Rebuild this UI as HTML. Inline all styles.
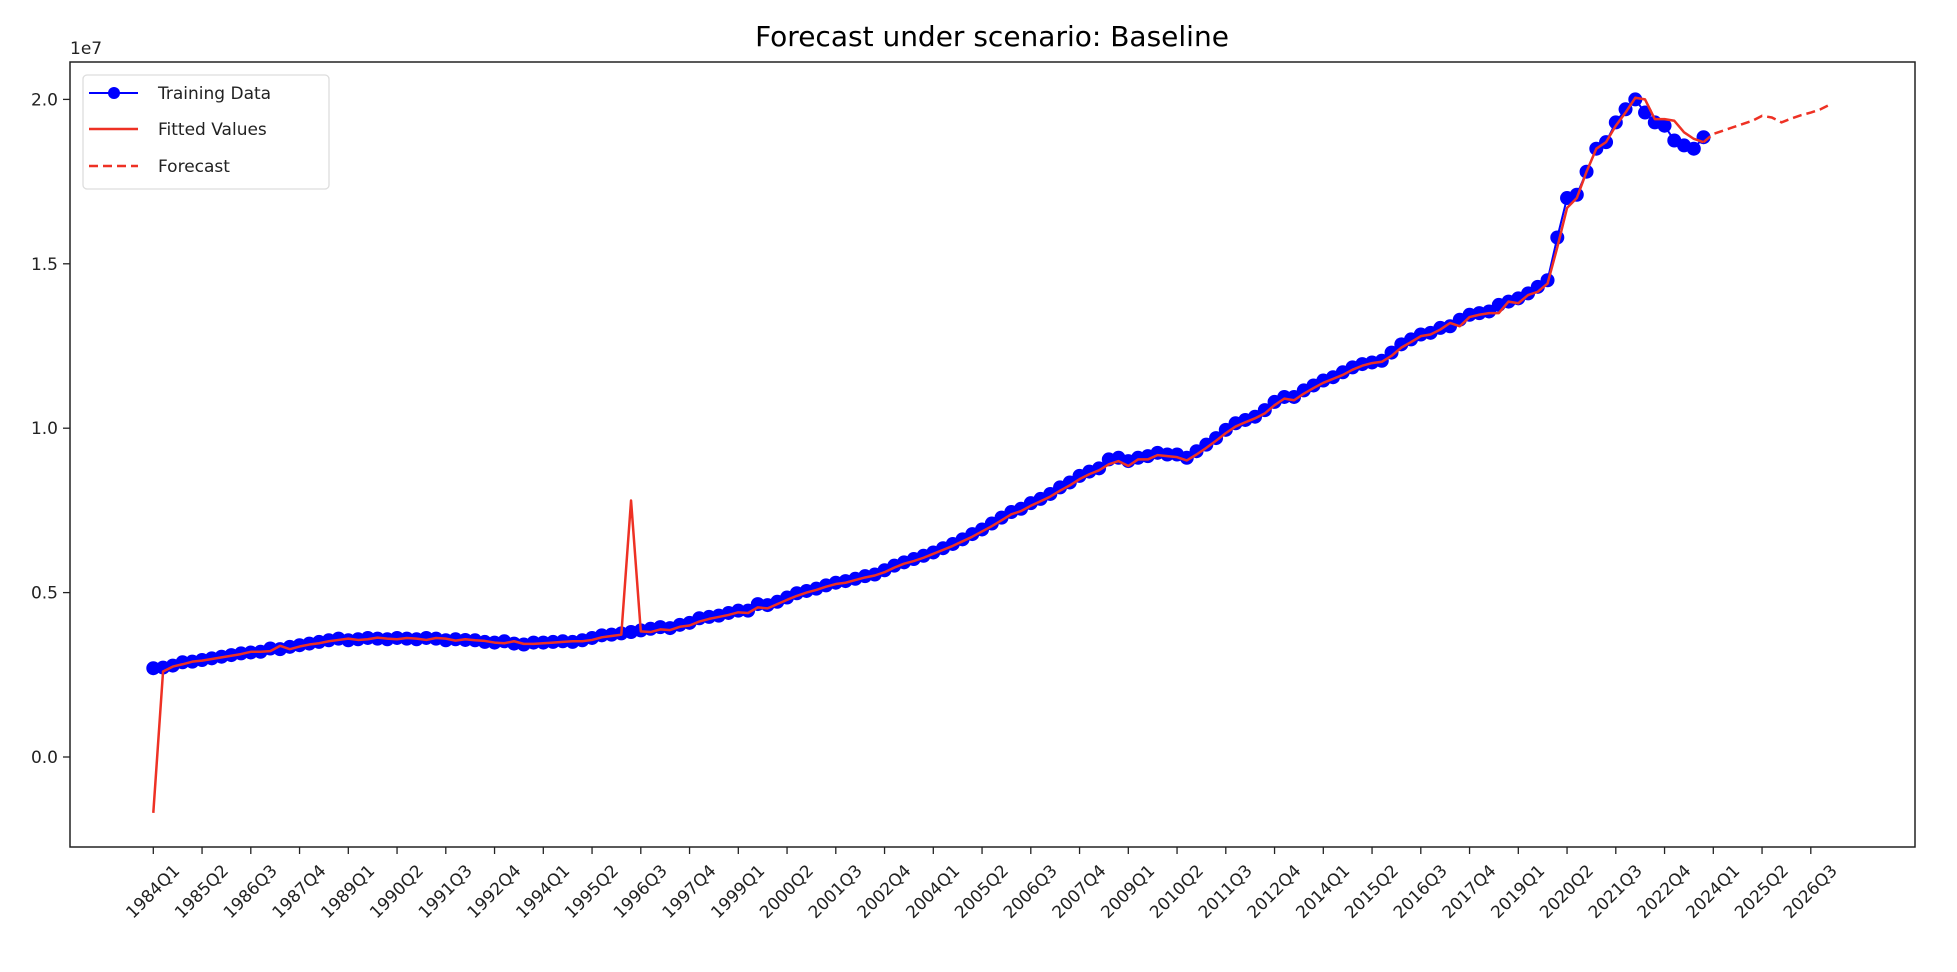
<!DOCTYPE html>
<html><head><meta charset="utf-8"><style>
body{margin:0;background:#fff;}
svg{display:block;font-family:"DejaVu Sans","Liberation Sans",sans-serif;}
</style></head><body>
<svg id="chart" width="1957" height="972" xmlns="http://www.w3.org/2000/svg">
<text x="992" y="46" font-size="28" text-anchor="middle" fill="#000">Forecast under scenario: Baseline</text>
<text x="70" y="54" font-size="17" fill="#222">1e7</text>
<g id="plot"></g>
<rect x="70" y="62" width="1845" height="785" fill="none" stroke="#222" stroke-width="1.5"/>
<g id="legend">
<rect x="83" y="75" width="246" height="114" rx="4" fill="#fff" fill-opacity="0.85" stroke="#ddd" stroke-width="1.3"/>
<g><line x1="89" y1="93" x2="138" y2="93" stroke="#0000ff" stroke-width="2"/><circle cx="114" cy="93" r="6" fill="#0000ff"/><text x="158" y="99" font-size="17" fill="#222">Training Data</text></g>
<g><line x1="89" y1="129" x2="138" y2="129" stroke="#ee3124" stroke-width="2.5"/><text x="158" y="135" font-size="17" fill="#222">Fitted Values</text></g>
<g><line x1="89" y1="166" x2="138" y2="166" stroke="#ee3124" stroke-width="2.5" stroke-dasharray="9,5"/><text x="158" y="172" font-size="17" fill="#222">Forecast</text></g>
</g>
</svg>
<script>
const trainingValues=[2.70,2.72,2.78,2.88,2.90,2.95,3.00,3.05,3.10,3.15,3.18,3.20,3.30,3.28,3.35,3.40,3.45,3.50,3.55,3.60,
3.55,3.58,3.62,3.60,3.58,3.62,3.60,3.58,3.62,3.60,3.55,3.58,3.56,3.55,3.50,3.48,3.52,3.45,3.42,3.48,
3.48,3.50,3.52,3.50,3.55,3.62,3.70,3.72,3.76,3.80,3.85,3.90,3.95,3.92,4.02,4.08,4.22,4.26,4.30,4.38,
4.45,4.45,4.65,4.62,4.72,4.85,4.98,5.05,5.12,5.22,5.30,5.35,5.42,5.50,5.55,5.68,5.82,5.92,6.02,6.12,
6.22,6.35,6.48,6.62,6.78,6.92,7.10,7.28,7.45,7.55,7.72,7.85,8.00,8.20,8.35,8.55,8.68,8.78,9.05,9.10,
9.00,9.10,9.15,9.25,9.20,9.20,9.10,9.30,9.50,9.70,9.95,10.15,10.25,10.35,10.55,10.80,10.95,10.95,11.15,11.30,
11.45,11.55,11.70,11.85,11.95,12.00,12.05,12.30,12.55,12.70,12.85,12.90,13.05,13.10,13.30,13.45,13.50,13.55,13.75,13.85,
13.95,14.10,14.30,14.50,15.80,17.00,17.10,17.80,18.50,18.70,19.30,19.70,20.00,19.60,19.30,19.20,18.75,18.60,18.50,18.85];
const fittedValues=[-1.70,2.60,2.75,2.82,2.90,2.93,2.98,3.03,3.08,3.13,3.20,3.20,3.22,3.38,3.28,3.36,3.42,3.46,3.52,3.56,
3.60,3.56,3.58,3.63,3.60,3.58,3.62,3.60,3.56,3.62,3.60,3.54,3.58,3.55,3.53,3.48,3.46,3.52,3.44,3.44,
3.46,3.48,3.50,3.52,3.52,3.56,3.64,3.68,3.72,7.80,3.82,3.80,3.88,3.86,3.96,4.00,4.12,4.20,4.26,4.32,
4.40,4.38,4.55,4.52,4.65,4.78,4.90,5.00,5.08,5.18,5.26,5.30,5.38,5.46,5.52,5.62,5.76,5.88,5.96,6.06,
6.18,6.30,6.42,6.56,6.70,6.86,7.02,7.20,7.38,7.48,7.64,7.78,7.92,8.10,8.26,8.45,8.60,8.72,8.90,9.00,
8.85,9.05,9.05,9.18,9.15,9.12,9.02,9.20,9.40,9.62,9.85,10.05,10.18,10.30,10.45,10.70,10.90,10.85,11.05,11.22,
11.38,11.50,11.62,11.78,11.90,11.98,12.02,12.20,12.45,12.62,12.80,12.85,13.00,13.20,13.10,13.38,13.45,13.50,13.50,13.85,
13.80,14.05,14.15,14.40,15.50,16.70,17.00,17.80,18.50,18.70,19.20,19.60,20.05,20.00,19.40,19.40,19.35,19.00,18.80,18.70];
const forecastIndex=[159,160,161,162,163,164,165,166,167,168,169,170,171,172];
const forecastValues=[18.70,18.95,19.05,19.15,19.25,19.35,19.50,19.45,19.30,19.42,19.52,19.60,19.70,19.85];
const yTicks=[0,5,10,15,20];
const yTickLabels=["0.0","0.5","1.0","1.5","2.0"];
const xTickIndex=[0,5,10,15,20,25,30,35,40,45,50,55,60,65,70,75,80,85,90,95,100,105,110,115,120,125,130,135,140,145,150,155,160,165,170];
const xTickLabels=["1984Q1","1985Q2","1986Q3","1987Q4","1989Q1","1990Q2","1991Q3","1992Q4","1994Q1","1995Q2","1996Q3","1997Q4","1999Q1","2000Q2","2001Q3","2002Q4","2004Q1","2005Q2","2006Q3","2007Q4","2009Q1","2010Q2","2011Q3","2012Q4","2014Q1","2015Q2","2016Q3","2017Q4","2019Q1","2020Q2","2021Q3","2022Q4","2024Q1","2025Q2","2026Q3"];

const NS="http://www.w3.org/2000/svg";
const L=70,R=1915,T=62,B=847;
function xs(i){return 153.3+i*9.75;}
function ys(v){return 757-v*32.88;}
const plot=document.getElementById('plot');
function mk(tag,attrs,parent){const e=document.createElementNS(NS,tag);for(const k in attrs)e.setAttribute(k,attrs[k]);(parent||plot).appendChild(e);return e;}

yTicks.forEach((v,k)=>{
  const t=mk('line',{x1:L-7,x2:L,y1:ys(v),y2:ys(v),stroke:'#222','stroke-width':1.3});
  
  
  const tx=mk('text',{x:L-12,y:ys(v)+6,'font-size':17,'text-anchor':'end',fill:'#222'});
  tx.textContent=yTickLabels[k];
  
  
});
xTickIndex.forEach((i,k)=>{
  const x=xs(i);
  const t=mk('line',{x1:x,x2:x,y1:B,y2:B+7,stroke:'#222','stroke-width':1.3});
  
  
  const cx=x, cy=B+45;
  const tx=mk('text',{x:cx,y:cy,'font-size':17,'text-anchor':'middle','dominant-baseline':'central',fill:'#222',transform:'rotate(-45 '+cx+' '+cy+')'});
  tx.textContent=xTickLabels[k];
  
  
});
const tp=mk('polyline',{points:trainingValues.map((v,i)=>xs(i)+','+ys(v)).join(' '),fill:'none',stroke:'#0000ff','stroke-width':2});


const mg=mk('g',{fill:'#0000ff'});


trainingValues.forEach((v,i)=>{
  const c=mk('circle',{cx:xs(i),cy:ys(v),r:7},mg);
  
  
});
const fp=mk('polyline',{points:fittedValues.map((v,i)=>xs(i)+','+ys(v)).join(' '),fill:'none',stroke:'#ee3124','stroke-width':2.5,'stroke-linejoin':'round'});


const fc=mk('polyline',{points:forecastValues.map((v,k)=>xs(forecastIndex[k])+','+ys(v)).join(' '),fill:'none',stroke:'#ee3124','stroke-width':2.5,'stroke-dasharray':'9,5'});


</script>
</body></html>
